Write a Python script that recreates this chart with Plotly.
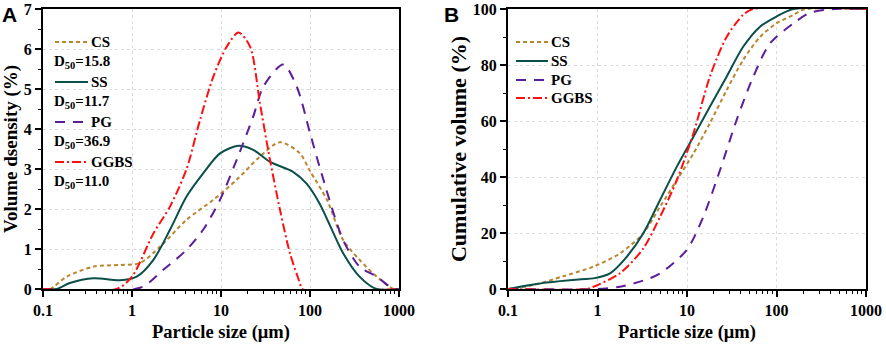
import plotly.graph_objects as go

# ---------------- data ----------------
# Panel A: volume density (%) vs particle size (um)
cs_d_a = [0.1, 0.12, 0.185, 0.37, 0.73, 1.23, 2.07, 4.1, 8.2, 15, 27.4, 46, 77, 100, 155, 235, 360, 560, 870, 1000]
cs_v_a = [0, 0, 0.31, 0.56, 0.6, 0.65, 1.06, 1.73, 2.23, 2.73, 3.31, 3.67, 3.39, 2.95, 2.23, 1.23, 0.73, 0.31, 0, 0]

ss_d_a = [0.1, 0.143, 0.2, 0.37, 0.73, 1.13, 1.74, 2.67, 4.1, 6.3, 9.75, 15.7, 23, 35.5, 64.5, 91, 128, 235, 360, 560, 1000]
ss_v_a = [0, 0, 0.15, 0.27, 0.22, 0.31, 0.73, 1.48, 2.31, 2.89, 3.39, 3.58, 3.48, 3.18, 2.93, 2.64, 2.14, 0.9, 0.31, 0, 0]

pg_d_a = [0.1, 1.23, 2.25, 4.1, 6.3, 9.75, 15, 23, 29.9, 50, 71, 100, 128, 235, 360, 560, 870, 1000]
pg_v_a = [0, 0.03, 0.48, 0.98, 1.48, 2.23, 3.23, 4.31, 5.06, 5.61, 5.06, 3.9, 3.06, 1.23, 0.56, 0.31, 0, 0]

gg_d_a = [0.1, 0.67, 1, 1.74, 2.67, 4.1, 5.8, 8.2, 11.6, 15.7, 21.2, 27.4, 35.5, 46, 59.6, 77, 82, 1000]
gg_v_a = [0, 0, 0.31, 1.39, 2.06, 3.0, 4.22, 5.31, 6.06, 6.41, 6.06, 4.64, 3.23, 1.98, 0.89, 0.15, 0, 0]

# Panel B: cumulative volume (%) vs particle size (um)
cs_d_b = [0.1, 0.19, 0.41, 0.9, 1.78, 3.25, 5, 7.7, 11.8, 18, 27.7, 42.4, 65.5, 100, 155, 200, 1000]
cs_c_b = [0, 1.4, 4.5, 8, 12.7, 19.9, 29.4, 38.9, 48.4, 59.2, 71, 81.8, 90, 94.9, 97.9, 99.8, 100]

ss_d_b = [0.1, 0.27, 0.66, 0.9, 1.38, 2.12, 3.25, 5, 7.7, 11.8, 18, 27.7, 42.4, 65.5, 100, 155, 1000]
ss_c_b = [0, 2.3, 3.5, 3.8, 5.6, 11.5, 19.9, 31.8, 43.7, 54.4, 65.1, 75.8, 86.5, 93.7, 97.3, 100, 100]

pg_d_b = [0.1, 1.0, 1.78, 3.25, 5, 9.9, 15.2, 23.4, 35.9, 55, 84.5, 155, 236, 450, 1000]
pg_c_b = [0, 0, 0.8, 3, 5.6, 13.9, 25.8, 42.5, 60.4, 75.8, 87.7, 94.9, 98.6, 100, 100]

gg_d_b = [0.1, 0.75, 0.9, 1.78, 3.25, 5, 7.7, 11.8, 18, 27.7, 42.4, 55, 1000]
gg_c_b = [0, 0, 0.8, 5.6, 14.5, 25.8, 38.9, 55.6, 75.8, 90, 97.9, 100, 100]

names = ["CS", "SS", "PG", "GGBS"]
d50_labels = ["D<sub>50</sub>=15.8", "D<sub>50</sub>=11.7", "D<sub>50</sub>=36.9", "D<sub>50</sub>=11.0"]
x_tick_vals = [0.1, 1, 10, 100, 1000]
x_tick_text = ["0.1", "1", "10", "100", "1000"]
ya_tick_vals = [0, 1, 2, 3, 4, 5, 6, 7]
yb_tick_vals = [0, 20, 40, 60, 80, 100]

# ---------------- styles ----------------
colors = ["#B8862E", "#0A4F4A", "#5A1E9A", "#FF1010"]
dashes = ["4px,3px", "solid", "10px,8px", "9px,3px,2px,3px"]
W, H = 886, 344
T, B = 9, 55
FONT = "Liberation Serif, Times New Roman, serif"


def bold(s):
    return "<b>" + s + "</b>"


fig = go.Figure()

series_a = [(cs_d_a, cs_v_a), (ss_d_a, ss_v_a), (pg_d_a, pg_v_a), (gg_d_a, gg_v_a)]
series_b = [(cs_d_b, cs_c_b), (ss_d_b, ss_c_b), (pg_d_b, pg_c_b), (gg_d_b, gg_c_b)]

for i, (d, v) in enumerate(series_a):
    fig.add_trace(go.Scatter(x=d, y=v, mode="lines", name=names[i], showlegend=False,
                             line=dict(color=colors[i], width=2, dash=dashes[i],
                                       shape="spline", smoothing=0.8),
                             xaxis="x", yaxis="y"))
for i, (d, v) in enumerate(series_b):
    fig.add_trace(go.Scatter(x=d, y=v, mode="lines", name=names[i], showlegend=False,
                             line=dict(color=colors[i], width=2, dash=dashes[i],
                                       shape="spline", smoothing=0.8),
                             xaxis="x2", yaxis="y2"))


def px_x(px):
    return px / W


def px_y(py):
    return (H - B - py) / (H - T - B)


shapes = []
annotations = []
lfont = dict(family=FONT, size=15, color="black", weight="bold")

# Legend A (with D50 lines)
rowsA = [42, 82, 122, 162]
for i, ry in enumerate(rowsA):
    shapes.append(dict(type="line", xref="paper", yref="paper",
                       x0=px_x(55), x1=px_x(88), y0=px_y(ry), y1=px_y(ry),
                       line=dict(color=colors[i], width=2, dash=dashes[i])))
    annotations.append(dict(xref="paper", yref="paper", x=px_x(89), y=px_y(ry),
                            text=bold(names[i]), showarrow=False, xanchor="left", yanchor="middle",
                            font=lfont))
    annotations.append(dict(xref="paper", yref="paper", x=px_x(52), y=px_y(ry + 20),
                            text=bold(d50_labels[i]), showarrow=False, xanchor="left", yanchor="middle",
                            font=lfont))

# Legend B
rowsB = [42, 61, 80, 98]
for i, ry in enumerate(rowsB):
    shapes.append(dict(type="line", xref="paper", yref="paper",
                       x0=px_x(516), x1=px_x(548), y0=px_y(ry), y1=px_y(ry),
                       line=dict(color=colors[i], width=2, dash=dashes[i])))
    annotations.append(dict(xref="paper", yref="paper", x=px_x(549), y=px_y(ry),
                            text=bold(names[i]), showarrow=False, xanchor="left", yanchor="middle",
                            font=lfont))

# Panel letters
for letter, xpx in [("A", 9), ("B", 452)]:
    annotations.append(dict(xref="paper", yref="paper", x=px_x(xpx), y=px_y(14),
                            text=bold(letter), showarrow=False, xanchor="center", yanchor="middle",
                            font=dict(family="Liberation Sans, Arial, sans-serif", size=21,
                                      color="black", weight="bold")))

minor_vals = [m * 10 ** e for e in range(-1, 3) for m in range(2, 10)]
tfont = dict(family=FONT, size=16, color="black", weight="bold")

common_x = dict(type="log", range=[-1, 3], tickmode="array", tickvals=x_tick_vals,
                ticktext=[bold(t) for t in x_tick_text], ticks="outside", ticklen=6, tickwidth=1.5,
                tickcolor="black", showline=True, linecolor="black", linewidth=2,
                mirror=True, showgrid=True, gridcolor="#dcdcdc", griddash="dot",
                gridwidth=1, zeroline=False,
                minor=dict(tickmode="array", tickvals=minor_vals, ticks="outside",
                           ticklen=3, tickwidth=1, tickcolor="black", showgrid=False),
                tickfont=tfont,
                title=dict(text=bold("Particle size (μm)"), standoff=7,
                           font=dict(family=FONT, size=18.5, color="black", weight="bold")),
                automargin=False)

common_y = dict(ticks="outside", ticklen=6, tickwidth=1.5, tickcolor="black",
                showline=True, linecolor="black", linewidth=2, mirror=True,
                showgrid=True, gridcolor="#dcdcdc", griddash="dot", zeroline=False,
                tickfont=tfont, automargin=False, tickmode="array")

fig.update_layout(
    width=W, height=H,
    margin=dict(l=0, r=0, t=T, b=B),
    paper_bgcolor="white", plot_bgcolor="white",
    font=dict(family=FONT, color="black", weight="bold"),
    showlegend=False,
    xaxis=dict(domain=[43 / W, 399 / W], anchor="y", **common_x),
    xaxis2=dict(domain=[508 / W, 866 / W], anchor="y2", **common_x),
    yaxis=dict(domain=[0, 1], anchor="x", range=[0, 7],
               tickvals=ya_tick_vals, ticktext=[bold(str(v)) for v in ya_tick_vals],
               minor=dict(tickmode="linear", tick0=0, dtick=0.5, ticks="outside", ticklen=3,
                          tickwidth=1, tickcolor="black", showgrid=False),
               title=dict(text=bold("Volume dsensity (%)"), standoff=5,
                          font=dict(family=FONT, size=19, color="black", weight="bold")),
               **common_y),
    yaxis2=dict(domain=[0, 1], anchor="x2", range=[0, 100],
                tickvals=yb_tick_vals, ticktext=[bold(str(v)) for v in yb_tick_vals],
                minor=dict(tickmode="linear", tick0=0, dtick=10, ticks="outside", ticklen=3,
                           tickwidth=1, tickcolor="black", showgrid=False),
                title=dict(text=bold("Cumulative volume (%)"), standoff=0,
                           font=dict(family=FONT, size=22, color="black", weight="bold")),
                **common_y),
    shapes=shapes,
    annotations=annotations,
)

fig.write_html("out.html", config={"displayModeBar": False},
               post_script="document.body.style.margin='0';document.body.style.padding='0';")
